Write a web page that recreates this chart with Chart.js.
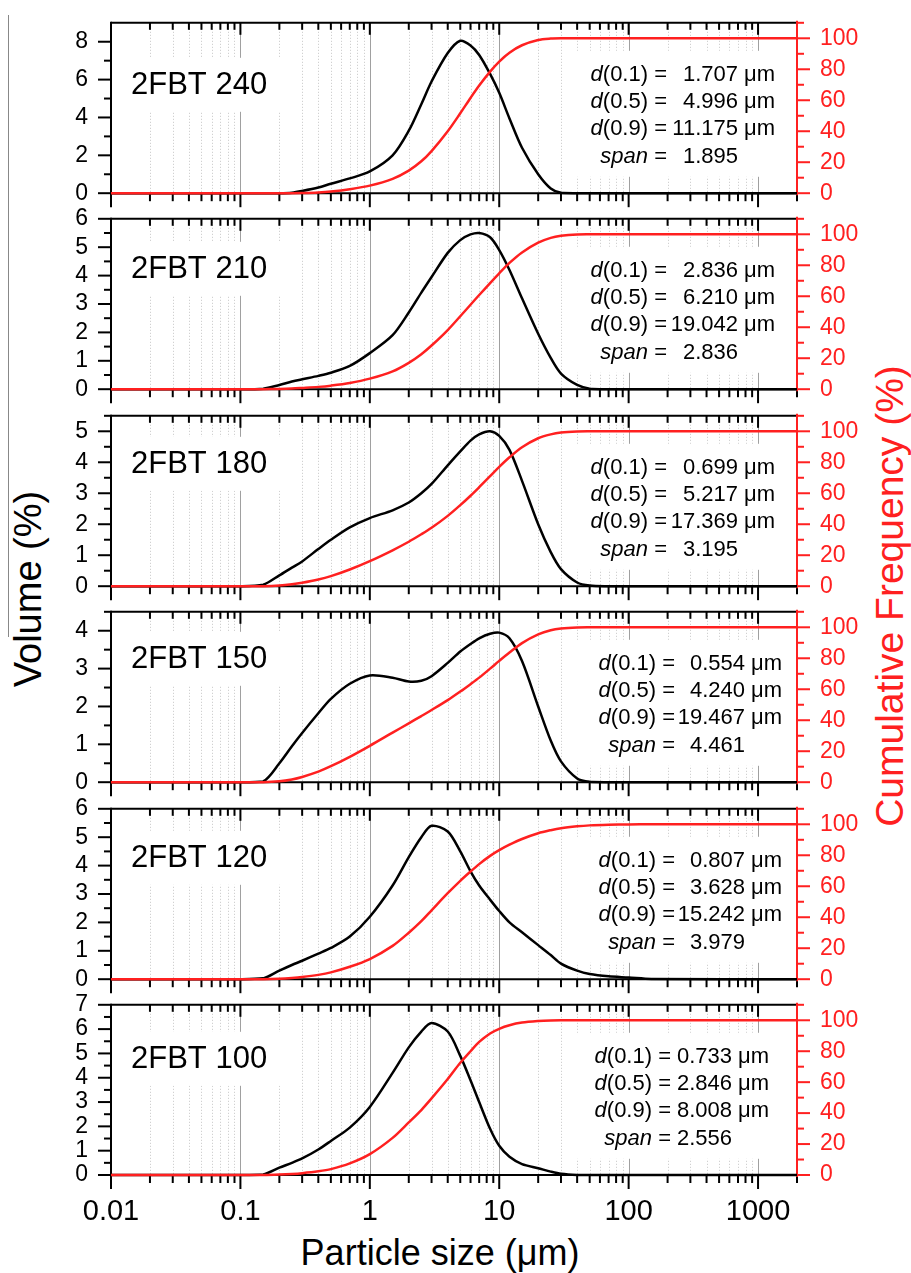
<!DOCTYPE html>
<html>
<head>
<meta charset="utf-8">
<script src="https://cdn.jsdelivr.net/npm/chart.js@4"></script>
<style>
  body { margin: 0; background: #fff; }
  #wrap { position: relative; width: 911px; height: 1273px; overflow: hidden;
          font-family: "Liberation Sans", Arial, Helvetica, sans-serif; }
  canvas { position: absolute; left: 0; }
  .title { position: absolute; white-space: nowrap; line-height: 1; }
</style>
</head>
<body>
<div id="wrap">
  <div style="position:absolute;left:8px;top:15px;width:1px;height:622px;background:#888;"></div>
  <div class="title" style="left:28px;top:589px;font-size:38px;color:#000;transform:translate(-50%,-50%) rotate(-90deg);">Volume (%)</div>
  <div class="title" style="left:889px;top:596px;font-size:39px;color:#ff2020;transform:translate(-50%,-50%) rotate(-90deg);">Cumulative Frequency (%)</div>
  <div class="title" style="left:440px;top:1253px;font-size:36px;color:#000;transform:translate(-50%,-50%);">Particle size (μm)</div>
</div>
<script>
// particle size grid (µm) shared by all samples
const sizes = [0.01, 0.1, 0.15, 0.2, 0.25, 0.3, 0.4, 0.5, 0.7, 1, 1.5, 2, 2.5, 3, 4, 5, 6, 7, 8.5, 10, 12, 15, 20, 25, 30, 40, 50, 70, 100, 150, 2000];

const sampleNames = ['2FBT 240', '2FBT 210', '2FBT 180', '2FBT 150', '2FBT 120', '2FBT 100'];

// volume (%)
const vol240 = [0, 0, 0, 0, 0.03, 0.12, 0.3, 0.5, 0.78, 1.15, 2.0, 3.3, 4.7, 5.9, 7.4, 8.05, 7.8, 7.3, 6.3, 5.3, 3.95, 2.4, 1.0, 0.25, 0.02, 0, 0, 0, 0, 0, 0];
const vol210 = [0, 0, 0.02, 0.15, 0.27, 0.35, 0.47, 0.58, 0.82, 1.27, 1.9, 2.7, 3.4, 3.95, 4.8, 5.25, 5.45, 5.5, 5.35, 4.9, 4.2, 3.2, 1.95, 1.1, 0.55, 0.15, 0.02, 0, 0, 0, 0];
const vol180 = [0, 0, 0.05, 0.35, 0.6, 0.8, 1.2, 1.5, 1.9, 2.2, 2.45, 2.7, 3.0, 3.3, 3.9, 4.35, 4.7, 4.9, 5.0, 4.85, 4.4, 3.4, 2.0, 1.1, 0.55, 0.12, 0.02, 0, 0, 0, 0];
const vol150 = [0, 0, 0.02, 0.5, 0.95, 1.3, 1.82, 2.2, 2.6, 2.82, 2.76, 2.66, 2.68, 2.8, 3.15, 3.45, 3.65, 3.8, 3.92, 3.95, 3.8, 3.2, 2.0, 1.1, 0.55, 0.1, 0.01, 0, 0, 0, 0];
const vol120 = [0, 0, 0.03, 0.3, 0.5, 0.65, 0.9, 1.1, 1.5, 2.2, 3.3, 4.3, 5.0, 5.4, 5.2, 4.5, 3.8, 3.3, 2.8, 2.4, 2.0, 1.65, 1.2, 0.85, 0.55, 0.3, 0.18, 0.1, 0.06, 0.01, 0];
const vol100 = [0, 0, 0.02, 0.3, 0.5, 0.68, 1.05, 1.4, 1.95, 2.8, 4.2, 5.25, 5.9, 6.25, 5.9, 4.9, 3.9, 3.0, 1.9, 1.2, 0.75, 0.45, 0.28, 0.14, 0.05, 0, 0, 0, 0, 0, 0];

// cumulative frequency (%)
const cum240 = [0, 0, 0, 0, 0, 0.1, 0.5, 1.1, 2.6, 4.9, 9.3, 14.6, 20.6, 27.2, 40, 51.6, 61.5, 69.5, 78.5, 85, 90.7, 95.5, 98.9, 99.8, 100, 100, 100, 100, 100, 100, 100];
const cum210 = [0, 0, 0, 0.15, 0.4, 0.8, 1.5, 2.3, 4, 6.8, 11.5, 17, 22.6, 28.2, 38.2, 47.1, 54.5, 60.8, 68.5, 74.8, 81.5, 88.3, 94.6, 97.7, 99, 99.9, 100, 100, 100, 100, 100];
const cum180 = [0, 0, 0, 0.4, 1.2, 2.2, 4.3, 6.5, 10.8, 16.2, 23.2, 28.7, 33.5, 37.7, 45.4, 52.3, 58.4, 63.9, 71, 77, 83.2, 89.7, 95.5, 98, 99.2, 99.9, 100, 100, 100, 100, 100];
const cum150 = [0, 0, 0, 0.6, 1.8, 3.4, 6.8, 10.3, 16.4, 23.5, 32, 38, 42.7, 46.6, 53, 58.5, 63.3, 67.5, 73.3, 78.3, 83.7, 89.8, 95.4, 98.1, 99.2, 99.9, 100, 100, 100, 100, 100];
const cum120 = [0, 0, 0, 0.3, 0.8, 1.4, 2.8, 4.4, 8, 13, 21.5, 30, 37.5, 44.5, 55.5, 63.5, 69.5, 74.3, 79.6, 83.3, 86.8, 90.5, 94.2, 96.2, 97.5, 98.7, 99.3, 99.7, 99.9, 100, 100];
const cum100 = [0, 0, 0, 0.3, 0.7, 1.2, 2.4, 3.8, 7.5, 13.5, 24, 34, 42, 49.5, 62, 72.5, 80, 86, 91.5, 94.5, 96.8, 98.5, 99.5, 99.9, 100, 100, 100, 100, 100, 100, 100];

// d-values printed in each panel
const d10Vals = ['1.707', '2.836', '0.699', '0.554', '0.807', '0.733'];
const d50Vals = ['4.996', '6.210', '5.217', '4.240', '3.628', '2.846'];
const d90Vals = ['11.175', '19.042', '17.369', '19.467', '15.242', '8.008'];
const spanVals = ['1.895', '2.836', '3.195', '4.461', '3.979', '2.556'];

// axes
const xTicks = [0.01, 0.1, 1, 10, 100, 1000];
const xMinor = [];
[0.01, 0.1, 1, 10, 100].forEach(d => { for (let k = 2; k <= 9; k++) xMinor.push(+(d * k).toPrecision(3)); });
xMinor.push(2000);
const volMax = [9, 6, 5.5, 4.5, 6, 7];
const volTicks = [[0, 2, 4, 6, 8], [0, 1, 2, 3, 4, 5, 6], [0, 1, 2, 3, 4, 5], [0, 1, 2, 3, 4], [0, 1, 2, 3, 4, 5, 6], [0, 1, 2, 3, 4, 5, 6, 7]];
const volMinor = [[1, 3, 5, 7], [0.5, 1.5, 2.5, 3.5, 4.5, 5.5], [0.5, 1.5, 2.5, 3.5, 4.5, 5.5], [0.5, 1.5, 2.5, 3.5, 4.5], [0.5, 1.5, 2.5, 3.5, 4.5, 5.5], [0.5, 1.5, 2.5, 3.5, 4.5, 5.5, 6.5]];
const cumTicks = [0, 20, 40, 60, 80, 100];
const cumMinor = [10, 30, 50, 70, 90, 110];

const vols = [vol240, vol210, vol180, vol150, vol120, vol100];
const cums = [cum240, cum210, cum180, cum150, cum120, cum100];

const FONT = '"Liberation Sans", Arial, Helvetica, sans-serif';
const RED = '#ff2020';
Chart.defaults.font.family = FONT;

const panelTops = [23, 219, 416, 612, 809, 1005];
const PANEL_H = 170;
const labelOffsets = [63, 51, 49, 48, 50, 55];
const statLines = [52, 79, 106, 134];
const eqXs = [667, 667, 667, 675, 675, 671];
const valXs = [738, 738, 738, 745, 745, 732];

function seg(ctx, x1, y1, x2, y2) {
  ctx.beginPath(); ctx.moveTo(x1, y1); ctx.lineTo(x2, y2); ctx.stroke();
}

function statLine(ctx, it, rest, value, unit, eqX, valX, yy) {
  ctx.textBaseline = 'middle';
  ctx.textAlign = 'right';
  ctx.font = '22px ' + FONT;
  const w = ctx.measureText(rest).width;
  ctx.fillText(rest, eqX, yy);
  ctx.fillText(value, valX, yy);
  if (unit) { ctx.textAlign = 'left'; ctx.fillText(unit, valX + 6, yy); }
  ctx.textAlign = 'right';
  ctx.font = 'italic 22px ' + FONT;
  ctx.fillText(it, eqX - w, yy);
}

const decor = {
  id: 'decor',
  beforeDatasetsDraw(chart, args, opts) {
    const { ctx, chartArea: a } = chart;
    const { x, y, y2 } = chart.scales;
    const i = opts.idx;
    ctx.save();

    // grid
    ctx.lineWidth = 1;
    ctx.strokeStyle = '#c6c6c6';
    ctx.setLineDash([1, 2]);
    xMinor.filter(v => v < 2000).forEach(v => {
      const px = Math.round(x.getPixelForValue(v)) + 0.5;
      seg(ctx, px, a.top, px, a.bottom);
    });
    ctx.setLineDash([]);
    ctx.strokeStyle = '#a0a0a0';
    xTicks.slice(1).forEach(v => {
      const px = Math.round(x.getPixelForValue(v)) + 0.5;
      seg(ctx, px, a.top, px, a.bottom);
    });

    // label backgrounds
    ctx.fillStyle = '#fff';
    const ly = a.top + labelOffsets[i];
    const lt = Math.max(a.top + 2, ly - 28);
    ctx.fillRect(121, lt, 165, ly + 26 - lt);
    ctx.fillRect(574, a.top + 28, 218, 126);

    // texts
    ctx.fillStyle = '#000';
    ctx.font = '31px ' + FONT;
    ctx.textAlign = 'left';
    ctx.textBaseline = 'middle';
    ctx.fillText(sampleNames[i], 131, ly);
    const eqX = eqXs[i], valX = valXs[i];
    statLine(ctx, 'd', '(0.1) =', d10Vals[i], 'μm', eqX, valX, a.top + statLines[0]);
    statLine(ctx, 'd', '(0.5) =', d50Vals[i], 'μm', eqX, valX, a.top + statLines[1]);
    statLine(ctx, 'd', '(0.9) =', d90Vals[i], 'μm', eqX, valX, a.top + statLines[2]);
    statLine(ctx, 'span', ' =', spanVals[i], '', eqX, valX, a.top + statLines[3]);

    // frame + ticks
    ctx.lineWidth = 2;
    ctx.strokeStyle = '#000';
    seg(ctx, a.left, a.top, a.right, a.top);
    seg(ctx, a.left, a.bottom, a.right, a.bottom);
    seg(ctx, a.left, a.top - 1, a.left, a.bottom);
    xTicks.forEach(v => {
      const px = x.getPixelForValue(v);
      seg(ctx, px, a.top, px, a.top + 12);
      seg(ctx, px, a.bottom, px, a.bottom + 14);
    });
    xMinor.forEach(v => {
      const px = Math.min(x.getPixelForValue(v), a.right);
      seg(ctx, px, a.top, px, a.top + 7);
      seg(ctx, px, a.bottom, px, a.bottom + 8);
    });
    volTicks[i].forEach(v => { const py = y.getPixelForValue(v); seg(ctx, a.left - 13, py, a.left, py); });
    volMinor[i].forEach(v => { const py = y.getPixelForValue(v); seg(ctx, a.left - 7, py, a.left, py); });

    ctx.strokeStyle = RED;
    seg(ctx, a.right, a.top - 2, a.right, a.bottom + 2);
    cumTicks.forEach(v => { const py = y2.getPixelForValue(v); seg(ctx, a.right, py, a.right + 13, py); });
    cumMinor.forEach(v => { const py = y2.getPixelForValue(v); seg(ctx, a.right, py, a.right + 7, py); });
    ctx.restore();
  }
};

function panelConfig(i) {
  const last = i === sampleNames.length - 1;
  return {
    type: 'line',
    data: {
      datasets: [
        {
          label: 'Cumulative',
          data: sizes.map((s, k) => ({ x: s, y: cums[i][k] })),
          yAxisID: 'y2',
          borderColor: RED,
          borderWidth: 2.5,
          pointRadius: 0,
          tension: 0.3,
          clip: false
        },
        {
          label: 'Volume',
          data: sizes.map((s, k) => ({ x: s, y: vols[i][k] })),
          yAxisID: 'y',
          borderColor: '#000',
          borderWidth: 2.5,
          pointRadius: 0,
          tension: 0.3,
          clip: false
        }
      ]
    },
    options: {
      responsive: false,
      maintainAspectRatio: false,
      animation: false,
      events: [],
      layout: { padding: { top: 12, bottom: last ? 0 : 16, left: 0, right: 0 } },
      plugins: { legend: { display: false }, tooltip: { enabled: false }, decor: { idx: i } },
      scales: {
        x: {
          type: 'logarithmic',
          min: 0.01,
          max: 2000,
          display: last,
          grid: { display: false, drawTicks: false },
          border: { display: false },
          afterBuildTicks: s => { s.ticks = xTicks.map(v => ({ value: v })); },
          afterFit: s => { s.height = last ? 62 : 0; },
          ticks: { autoSkip: false, maxRotation: 0, color: '#000', font: { size: 29 }, padding: 20, callback: v => String(v) }
        },
        y: {
          position: 'left',
          min: 0,
          max: volMax[i],
          grid: { display: false, drawTicks: false },
          border: { display: false },
          afterBuildTicks: s => { s.ticks = volTicks[i].map(v => ({ value: v })); },
          afterFit: s => { s.width = 111; },
          ticks: { autoSkip: false, color: '#000', font: { size: 23 }, padding: 23 }
        },
        y2: {
          position: 'right',
          min: 0,
          max: 110,
          grid: { display: false, drawTicks: false },
          border: { display: false },
          afterBuildTicks: s => { s.ticks = cumTicks.map(v => ({ value: v })); },
          afterFit: s => { s.width = 114; },
          ticks: { autoSkip: false, color: RED, font: { size: 23 }, padding: 23 }
        }
      }
    },
    plugins: [decor]
  };
}

const wrap = document.getElementById('wrap');

sampleNames.forEach((name, i) => {
  const cv = document.createElement('canvas');
  cv.width = 911;
  cv.height = 260;
  wrap.appendChild(cv);
  // first pass: find how much room the axes take, then size the canvas so the plot area is PANEL_H tall
  let chart = new Chart(cv.getContext('2d'), panelConfig(i));
  const padTop = chart.chartArea.top;
  const padBottom = chart.height - chart.chartArea.bottom;
  chart.destroy();
  const h = Math.round(padTop + PANEL_H + padBottom);
  cv.width = 911;
  cv.height = h;
  cv.style.width = '911px';
  cv.style.height = h + 'px';
  chart = new Chart(cv.getContext('2d'), panelConfig(i));
  cv.style.top = Math.round(panelTops[i] - chart.chartArea.top) + 'px';
});
</script>
</body>
</html>
